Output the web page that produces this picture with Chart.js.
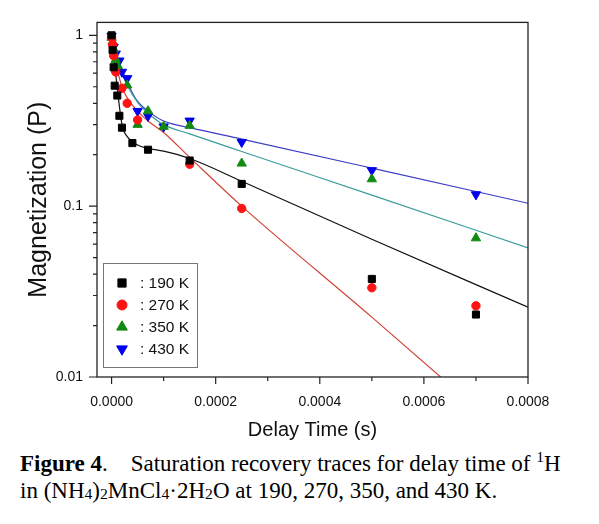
<!DOCTYPE html>
<html>
<head>
<meta charset="utf-8">
<script src="https://cdn.jsdelivr.net/npm/chart.js@4.4.1/dist/chart.umd.min.js"></script>
<style>
  body { margin: 0; background: #fff; }
  #wrap { position: relative; width: 599px; height: 445px; }
  .caption {
    font-family: "Liberation Serif", "Times New Roman", serif;
    font-size: 23px;
    line-height: 27px;
    margin: 5px 0 0 20px;
    color: #000;
    white-space: nowrap;
  }
  .caption sub { font-size: 0.68em; vertical-align: -0.08em; }
  .caption sup { font-size: 0.68em; vertical-align: 0.55em; line-height: 0; }
</style>
</head>
<body>
<div id="wrap"><canvas id="chart"></canvas></div>
<div class="caption"><b>Figure 4</b>.&nbsp;&nbsp;&nbsp;&nbsp;Saturation recovery traces for delay time of <sup>1</sup>H<br>in (NH<sub>4</sub>)<sub>2</sub>MnCl<sub>4</sub>·2H<sub>2</sub>O at 190, 270, 350, and 430 K.</div>

<script>
// measured points, delay time (s) vs magnetization
const delay190 = [0, 0.000002, 0.000004, 0.000006, 0.000011, 0.000015, 0.00002, 0.00004, 0.00007, 0.00015, 0.00025, 0.0005, 0.0007];
const mag190   = [1.0, 0.82, 0.65, 0.507, 0.444, 0.338, 0.288, 0.234, 0.214, 0.185, 0.135, 0.0375, 0.0232];

const delay270 = [0, 0.000002, 0.000004, 0.000008, 0.00002, 0.00003, 0.00005, 0.00015, 0.00025, 0.0005, 0.0007];
const mag270   = [0.97, 0.88, 0.76, 0.61, 0.49, 0.40, 0.32, 0.176, 0.097, 0.0333, 0.0261];

const delay350 = [0, 0.000002, 0.000004, 0.000008, 0.000012, 0.00003, 0.00005, 0.00007, 0.0001, 0.00015, 0.00025, 0.0005, 0.0007];
const mag350   = [0.97, 0.92, 0.83, 0.72, 0.66, 0.51, 0.30, 0.36, 0.292, 0.296, 0.178, 0.144, 0.065];

const delay430 = [0, 0.000004, 0.000008, 0.000015, 0.00002, 0.00003, 0.00005, 0.00007, 0.0001, 0.00015, 0.00025, 0.0005, 0.0007];
const mag430   = [0.99, 0.855, 0.78, 0.71, 0.61, 0.56, 0.36, 0.337, 0.292, 0.316, 0.237, 0.162, 0.117];

// fitted curves
const fitTime = [0, 0.000005, 0.00001, 0.00002, 0.00003, 0.00005, 0.00007, 0.0001, 0.00015, 0.00025, 0.0005, 0.0008];
const fit190  = [1.0, 0.72, 0.52, 0.30, 0.255, 0.228, 0.218, 0.21, 0.19, 0.14, 0.064, 0.0256];
const fit350  = [1.0, 0.85, 0.74, 0.60, 0.51, 0.405, 0.35, 0.30, 0.265, 0.209, 0.116, 0.057];
const fit430  = [1.0, 0.87, 0.77, 0.63, 0.53, 0.41, 0.36, 0.315, 0.288, 0.247, 0.167, 0.104];
const fitTime270 = [0, 0.000005, 0.00001, 0.00002, 0.00003, 0.00005, 0.00007, 0.0001, 0.00015, 0.00025, 0.0005, 0.0007];
const fit270  = [1.0, 0.78, 0.65, 0.50, 0.43, 0.36, 0.315, 0.27, 0.193, 0.10, 0.0224, 0.0066];

const legendLabels = [': 190 K', ': 270 K', ': 350 K', ': 430 K'];

const delayTicks  = [0, 0.0001, 0.0002, 0.0003, 0.0004, 0.0005, 0.0006, 0.0007, 0.0008];
const delayLabels = ['0.0000', '', '0.0002', '', '0.0004', '', '0.0006', '', '0.0008'];
const magTicks  = [0.01, 0.02, 0.03, 0.04, 0.05, 0.06, 0.07, 0.08, 0.09,
                   0.1, 0.2, 0.3, 0.4, 0.5, 0.6, 0.7, 0.8, 0.9, 1];
const magLabels = ['0.01', '', '', '', '', '', '', '', '',
                   '0.1', '', '', '', '', '', '', '', '', '1'];

const pts = (xs, ys) => xs.map((x, i) => ({ x: x, y: ys[i] }));

Chart.defaults.font.family = '"Liberation Sans", Arial, sans-serif';
Chart.defaults.color = '#111';

const markerSet = (label, xs, ys, color, style, radius, rotation) => ({
  label: label,
  data: pts(xs, ys),
  showLine: false,
  pointStyle: style,
  pointRadius: radius,
  pointRotation: rotation || 0,
  pointBackgroundColor: color,
  pointBorderColor: color,
  pointBorderWidth: 1,
  isMarker: true,
  order: 1
});

const fitSet = (xs, ys, color) => ({
  data: pts(xs, ys),
  showLine: true,
  borderColor: color,
  borderWidth: 1.2,
  pointRadius: 0,
  cubicInterpolationMode: 'monotone',
  isMarker: false,
  order: 2
});

// axis ticks (majors long, minors short) and the frame around the plot
const frameTicks = {
  id: 'frameTicks',
  afterDraw(chart) {
    const { ctx, chartArea: a, scales } = chart;
    ctx.save();
    ctx.strokeStyle = '#222';
    ctx.lineWidth = 1.2;
    ctx.beginPath();
    delayTicks.forEach((v, i) => {
      const px = scales.x.getPixelForValue(v);
      const len = delayLabels[i] ? 7 : 4;
      ctx.moveTo(px, a.bottom);
      ctx.lineTo(px, a.bottom + len);
    });
    magTicks.forEach((v, i) => {
      const py = scales.y.getPixelForValue(v);
      const len = magLabels[i] ? 8 : 4;
      ctx.moveTo(a.left, py);
      ctx.lineTo(a.left - len, py);
    });
    ctx.stroke();
    ctx.lineWidth = 1.3;
    ctx.strokeRect(a.left, a.top, a.right - a.left, a.bottom - a.top);
    ctx.restore();
  }
};

// legend box inside the plot, lower left
const insideLegend = {
  id: 'insideLegend',
  afterDraw(chart) {
    const { ctx, chartArea: a } = chart;
    const sets = chart.data.datasets.filter(d => d.isMarker);
    const bx = a.left + 6, by = a.bottom - 114, bw = 94, bh = 104;
    ctx.save();
    ctx.fillStyle = '#fff';
    ctx.fillRect(bx, by, bw, bh);
    ctx.strokeStyle = '#777';
    ctx.lineWidth = 1;
    ctx.strokeRect(bx + 0.5, by + 0.5, bw, bh);
    sets.forEach((d, i) => {
      const y = by + 20 + i * 22;
      ctx.fillStyle = d.pointBackgroundColor;
      ctx.strokeStyle = d.pointBorderColor;
      ctx.lineWidth = 1;
      Chart.helpers.drawPoint(ctx, { pointStyle: d.pointStyle, radius: d.pointRadius + 0.8, rotation: d.pointRotation, borderWidth: 1 }, bx + 19, y);
      ctx.fillStyle = '#111';
      ctx.font = '15.5px "Liberation Sans", Arial, sans-serif';
      ctx.textBaseline = 'middle';
      ctx.fillText(d.label, bx + 37, y + 1);
    });
    ctx.restore();
  }
};

new Chart(document.getElementById('chart'), {
  type: 'scatter',
  data: {
    datasets: [
      fitSet(fitTime, fit190, '#111111'),
      fitSet(fitTime270, fit270, '#cf4636'),
      fitSet(fitTime, fit350, '#3b9c9c'),
      fitSet(fitTime, fit430, '#3c3cc4'),
      markerSet(legendLabels[0], delay190, mag190, '#000000', 'rect', 5),
      markerSet(legendLabels[1], delay270, mag270, '#ff1414', 'circle', 4.2),
      markerSet(legendLabels[2], delay350, mag350, '#128a12', 'triangle', 5.4),
      markerSet(legendLabels[3], delay430, mag430, '#0000ee', 'triangle', 5.4, 180)
    ]
  },
  options: {
    responsive: true,
    maintainAspectRatio: false,
    animation: false,
    layout: { padding: { top: 13, right: 71, left: 0, bottom: 0 } },
    plugins: {
      legend: { display: false },
      tooltip: { enabled: false }
    },
    scales: {
      x: {
        type: 'linear',
        min: -0.000028,
        max: 0.0008,
        bounds: 'data',
        afterBuildTicks: s => { s.ticks = delayTicks.map(v => ({ value: v })); },
        afterFit: s => { s.height = 68; },
        grid: { display: false, drawTicks: false },
        border: { display: false },
        ticks: {
          autoSkip: false,
          maxRotation: 0,
          padding: 17,
          font: { size: 14 },
          callback: (v, i) => delayLabels[i]
        },
        title: {
          display: true,
          text: 'Delay Time (s)',
          font: { size: 20 },
          padding: { top: 0, bottom: 3 }
        }
      },
      y: {
        type: 'logarithmic',
        min: 0.01,
        max: 1.19,
        afterBuildTicks: s => { s.ticks = magTicks.map(v => ({ value: v })); },
        afterFit: s => { s.width = 97; },
        grid: { display: false, drawTicks: false },
        border: { display: false },
        ticks: {
          autoSkip: false,
          padding: 14,
          font: { size: 14 },
          callback: (v, i) => magLabels[i]
        },
        title: {
          display: true,
          text: 'Magnetization (P)',
          font: { size: 25 },
          padding: { top: 24, bottom: 0 }
        }
      }
    }
  },
  plugins: [frameTicks, insideLegend]
});
</script>
</body>
</html>
